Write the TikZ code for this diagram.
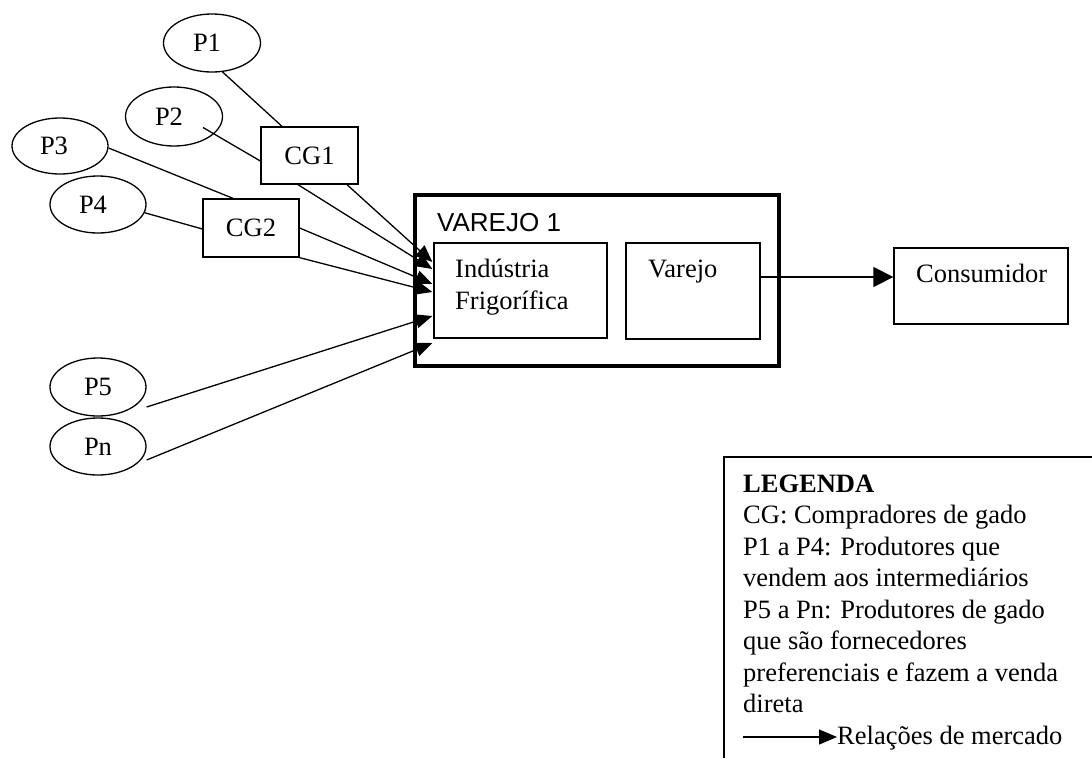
\documentclass[tikz,border=0pt]{standalone}
\usepackage{fontspec}
\setmainfont{Liberation Serif}
\newfontfamily\arialf{Liberation Sans}
\usetikzlibrary{shapes.geometric,arrows.meta}
\begin{document}
\begin{tikzpicture}[x=1pt,y=-1pt,
  font=\fontsize{26.5}{31.5}\selectfont,
  ell/.style={ellipse,draw,line width=1.3pt,minimum width=96pt,minimum height=57pt,inner sep=0pt},
  bx/.style={rectangle,draw,line width=1.3pt,inner sep=0pt},
  txt/.style={inner sep=0pt,anchor=base west},
  link/.style={line width=1.3pt},
  arr/.style={line width=1.3pt,-{Triangle[length=17pt,width=14pt]}},
  bigarr/.style={line width=1.3pt,-{Triangle[length=20pt,width=20pt]}},
  legarr/.style={line width=1.3pt,-{Triangle[length=18pt,width=15pt]}}]
\useasboundingbox (0,0) rectangle (1092,758);
% producers
\node[ell,minimum width=97pt,minimum height=58pt] (P1) at (212,43) {\kern-10pt P1};
\node[ell,minimum width=97pt,minimum height=59pt] (P2) at (174,116.5) {\kern-10pt P2};
\node[ell,minimum height=56pt] (P3) at (60,146) {\kern-12pt P3};
\node[ell] (P4) at (98,204.5) {\kern-10pt P4};
\node[ell,minimum height=58pt] (P5) at (98,387) {P5};
\node[ell] (Pn) at (98,446.5) {Pn};
% buyers
\node[bx,minimum width=97pt,minimum height=57pt] (CG1) at (309.5,155.5) {CG1};
\node[bx,minimum width=96pt,minimum height=58pt] (CG2) at (251,228) {CG2};
% varejo block
\node[rectangle,draw,line width=4.5pt,minimum width=364pt,minimum height=171pt,inner sep=0pt] (outer) at (597,280.5) {};
\node[txt,font=\arialf\fontsize{26}{31}\selectfont] (vlab) at (437,231) {VAREJO 1};
\node[bx,minimum width=173pt,minimum height=95pt] (Ind) at (520.5,290.5) {};
\node[txt] (ind1) at (455,277) {Indústria};
\node[txt] (ind2) at (455,309) {Frigorífica};
\node[bx,minimum width=134pt,minimum height=96pt] (Var) at (693,291) {};
\node[txt] (varlab) at (648,277) {Varejo};
\node[bx,minimum width=174pt,minimum height=76pt] (Con) at (981,286) {};
\node[txt] (conlab) at (916,282) {Consumidor};
% links producers -> buyers
\draw[link] (P1.-70) -- ([xshift=-27.5pt]CG1.north);
\draw[link] ([xshift=29pt,yshift=-11pt]P2.center) -- ([yshift=-5.5pt]CG1.west);
\draw[link] ([yshift=-2pt]P3.east) -- ([xshift=-18pt]CG2.north);
\draw[link] (P4.-10) -- ([yshift=-1pt]CG2.west);
% arrows into industry
\draw[arr] ([xshift=37.5pt]CG1.south) -- ([xshift=-1pt,yshift=28.5pt]Ind.west);
\draw[arr] ([xshift=-11.5pt]CG1.south) -- ([xshift=-1pt,yshift=21.5pt]Ind.west);
\draw[arr] (CG2.east) -- ([xshift=-1pt,yshift=6.5pt]Ind.west);
\draw[arr] (CG2.south east) -- ([xshift=-1pt,yshift=-1.5pt]Ind.west);
\draw[arr] ([yshift=-20pt]P5.east) -- ([xshift=-1pt,yshift=-25.5pt]Ind.west);
\draw[arr] ([yshift=-13.5pt]Pn.east) -- ([xshift=-1pt,yshift=-52.5pt]Ind.west);
% varejo -> consumidor
\draw[bigarr] ([yshift=14pt]Var.east) -- ([yshift=14pt]Var.east -| Con.west);
% legend
\draw[link] (724,758) -- (724,457) -- (1092,457);
\node[txt,font=\bfseries\fontsize{26.5}{31.5}\selectfont] (l0) at (743,492) {LEGENDA};
\node[txt] (l1) at (743,523.5) {CG: Compradores de gado};
\node[txt] (l2) at (743,555) {P1 a P4: Produtores que};
\node[txt] (l3) at (743,586.5) {vendem aos intermediários};
\node[txt] (l4) at (743,618) {P5 a Pn: Produtores de gado};
\node[txt] (l5) at (743,649.5) {que são fornecedores};
\node[txt] (l6) at (743,681) {preferenciais e fazem a venda};
\node[txt] (l7) at (743,712.5) {direta};
\node[txt] (l8) at (837,744) {Relações de mercado};
\coordinate (ls) at (743,737);
\draw[legarr] (ls) -- (ls -| l8.west);
\end{tikzpicture}
\end{document}
